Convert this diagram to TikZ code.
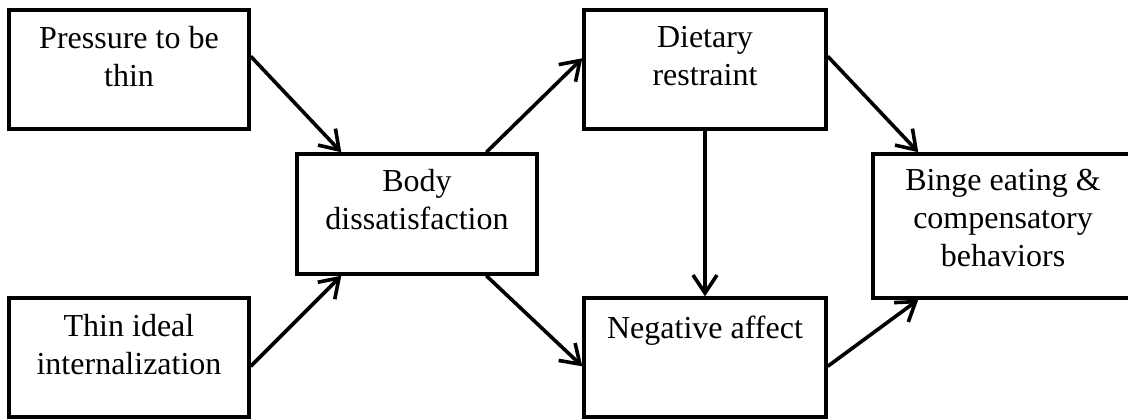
\documentclass[tikz,border=0pt]{standalone}
\usepackage{fontspec}
\setmainfont{Liberation Serif}
\usetikzlibrary{arrows.meta,calc}
\begin{document}
\begin{tikzpicture}[x=1pt,y=-1pt,
  box/.style={draw=black,line width=3.4pt,rectangle,inner sep=0pt,minimum width=240pt,minimum height=119pt},
  txt/.style={anchor=north,inner sep=0pt,align=center,font=\fontsize{32}{38}\selectfont},
  arr/.style={draw=black,line width=3.6pt,-{Straight Barb[length=18pt,width=24pt,line width=3.6pt]}}]
\useasboundingbox (0,0) rectangle (1128,419);
\node[box] (p) at (129,69.5) {};
\node[box] (t) at (129,357.5) {};
\node[box,minimum height=120pt] (b) at (417,214) {};
\node[box,minimum width=242pt] (d) at (705,69.5) {};
\node[box,minimum width=242pt] (n) at (705,357.5) {};
\node[box,minimum width=260pt,minimum height=144pt] (g) at (1003,226) {};
\node[txt] (pt) at ($(p.north)+(0,18)$) {Pressure to be\\thin};
\node[txt] (tt) at ($(t.north)+(0,18)$) {Thin ideal\\internalization};
\node[txt] (bt) at ($(b.north)+(0,17)$) {Body\\dissatisfaction};
\node[txt] (dt) at ($(d.north)+(0,18)$) {Dietary\\restraint};
\node[txt] (nt) at ($(n.north)+(0,19)$) {Negative affect};
\node[txt] (gt) at ($(g.north)+(0,17)$) {Binge eating \&\\compensatory\\behaviors};
\draw[arr] ($(p.north east)+(0,48)$) -- ($(b.north west)+(46,0)$);
\draw[arr] ($(t.north east)+(0,70)$) -- ($(b.south west)+(46,0)$);
\draw[arr] ($(b.north west)+(191,0)$) -- ($(d.north west)+(0,50)$);
\draw[arr] ($(b.south west)+(191,0)$) -- ($(n.north west)+(0,70)$);
\draw[arr] (d.south) -- (n.north);
\draw[arr] ($(d.north east)+(0,48)$) -- ($(g.north west)+(47,0)$);
\draw[arr] ($(n.north east)+(0,70)$) -- ($(g.south west)+(47,0)$);
\end{tikzpicture}
\end{document}
